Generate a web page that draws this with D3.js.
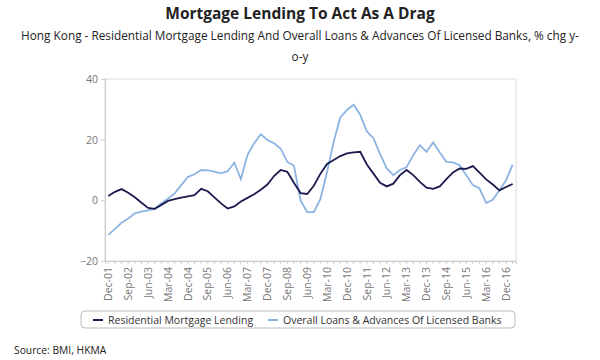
<!DOCTYPE html>
<html><head><meta charset="utf-8">
<script src="https://cdn.jsdelivr.net/npm/d3@7"></script>
<style>body{margin:0;background:#fff;}svg{display:block;font-family:"Open Sans",sans-serif;}</style>
</head><body>
<svg id="c" width="600" height="360"></svg>
<script>
const quarters = ["Dec-01","Mar-02","Jun-02","Sep-02","Dec-02","Mar-03","Jun-03","Sep-03","Dec-03","Mar-04","Jun-04","Sep-04","Dec-04","Mar-05","Jun-05","Sep-05","Dec-05","Mar-06","Jun-06","Sep-06","Dec-06","Mar-07","Jun-07","Sep-07","Dec-07","Mar-08","Jun-08","Sep-08","Dec-08","Mar-09","Jun-09","Sep-09","Dec-09","Mar-10","Jun-10","Sep-10","Dec-10","Mar-11","Jun-11","Sep-11","Dec-11","Mar-12","Jun-12","Sep-12","Dec-12","Mar-13","Jun-13","Sep-13","Dec-13","Mar-14","Jun-14","Sep-14","Dec-14","Mar-15","Jun-15","Sep-15","Dec-15","Mar-16","Jun-16","Sep-16","Dec-16","Mar-17"];
const tickLabels = ["Dec-01","Sep-02","Jun-03","Mar-04","Dec-04","Sep-05","Jun-06","Mar-07","Dec-07","Sep-08","Jun-09","Mar-10","Dec-10","Sep-11","Jun-12","Mar-13","Dec-13","Sep-14","Jun-15","Mar-16","Dec-16"];
const mortgage = [1.4,2.8,3.7,2.5,1.0,-0.8,-2.5,-2.8,-1.5,-0.2,0.4,0.9,1.3,1.7,3.8,3.0,1.0,-1.0,-2.7,-2.0,-0.4,0.8,2.0,3.5,5.2,8.0,10.0,9.4,5.8,2.4,2.1,4.8,8.8,12.0,13.3,14.6,15.5,15.8,16.0,11.8,8.8,5.8,4.6,5.5,8.3,10.0,8.3,6.1,4.2,3.8,4.6,7.0,9.2,10.5,10.4,11.3,9.1,6.9,5.2,3.3,4.4,5.4];
const loans = [-11.4,-9.4,-7.4,-6.0,-4.3,-3.7,-3.3,-2.8,-1.0,0.5,2.3,5.0,7.7,8.6,10.0,9.9,9.5,8.9,9.6,12.4,7.0,15.0,18.8,21.8,19.9,18.8,17.1,12.7,11.4,0.0,-3.9,-3.9,0.5,9.4,19.3,27.3,29.8,31.5,28.2,22.7,20.5,15.2,10.5,8.3,10.0,11.0,14.9,18.2,16.0,19.1,15.8,12.7,12.5,11.6,8.3,5.0,3.9,-0.9,0.2,3.3,6.6,11.8];
const yTicks = [-20,0,20,40];
const seriesNames = ["Residential Mortgage Lending","Overall Loans & Advances Of Licensed Banks"];
const colors = ["#1b1b4f","#8cb4e2"];

const svg = d3.select("#c");
const L=105,R=516,T=79,B=261;
const x = d3.scaleBand().domain(quarters).range([L,R]);
const y = d3.scaleLinear().domain([-20,40]).range([B,T]);

svg.append("text").attr("x",300).attr("y",19).attr("text-anchor","middle")
  .attr("font-weight","bold").attr("font-size",15.5).attr("fill","#222").text("Mortgage Lending To Act As A Drag");
svg.append("text").attr("x",300).attr("y",40).attr("text-anchor","middle")
  .attr("font-size",11.8).attr("fill","#222").text("Hong Kong - Residential Mortgage Lending And Overall Loans & Advances Of Licensed Banks, % chg y-");
svg.append("text").attr("x",300).attr("y",61).attr("text-anchor","middle")
  .attr("font-size",11.8).attr("fill","#222").text("o-y");

// plot border
svg.append("rect").attr("x",L).attr("y",T).attr("width",R-L).attr("height",B-T)
  .attr("fill","none").attr("stroke","#dcdcdc").attr("stroke-width",1);

// y axis
const ya = svg.append("g").attr("transform",`translate(${L},0)`)
  .call(d3.axisLeft(y).tickValues(yTicks).tickSize(4).tickPadding(3));
ya.select(".domain").attr("stroke","#ccc");
ya.selectAll("line").attr("stroke","#ccc");
ya.selectAll("text").attr("font-size",10.5).attr("fill","#777").attr("font-family","Open Sans, sans-serif");

// x axis
const xa = svg.append("g").attr("transform",`translate(0,${B})`)
  .call(d3.axisBottom(x).tickValues(quarters).tickSize(3).tickFormat(d => tickLabels.includes(d) ? d : ""));
xa.select(".domain").attr("stroke","#ccc");
xa.selectAll("line").attr("stroke","#ccc");
xa.selectAll("text").attr("font-size",10.5).attr("fill","#777").attr("font-family","Open Sans, sans-serif")
  .attr("text-anchor","end").attr("transform","rotate(-90)").attr("x",-6).attr("y",0).attr("dy","0.35em");

const line = d3.line().x((d,i)=>x(quarters[i])+x.bandwidth()/2).y(d=>y(d));
svg.append("path").datum(loans).attr("d",line).attr("fill","none").attr("stroke",colors[1]).attr("stroke-width",1.8);
svg.append("path").datum(mortgage).attr("d",line).attr("fill","none").attr("stroke",colors[0]).attr("stroke-width",1.8);

// legend
svg.append("rect").attr("x",81).attr("y",311).attr("width",434).attr("height",17).attr("rx",4)
  .attr("fill","#fff").attr("stroke","#bbb");
const lx = [93,268];
seriesNames.forEach((n,i)=>{
  svg.append("line").attr("x1",lx[i]).attr("x2",lx[i]+10).attr("y1",320).attr("y2",320).attr("stroke",colors[i]).attr("stroke-width",2);
  svg.append("text").attr("x",lx[i]+15).attr("y",323.5).attr("font-size",10.5).attr("fill","#333").text(n);
});

svg.append("text").attr("x",14).attr("y",354).attr("font-size",10.3).attr("fill","#222").text("Source: BMI, HKMA");
</script>
</body></html>
